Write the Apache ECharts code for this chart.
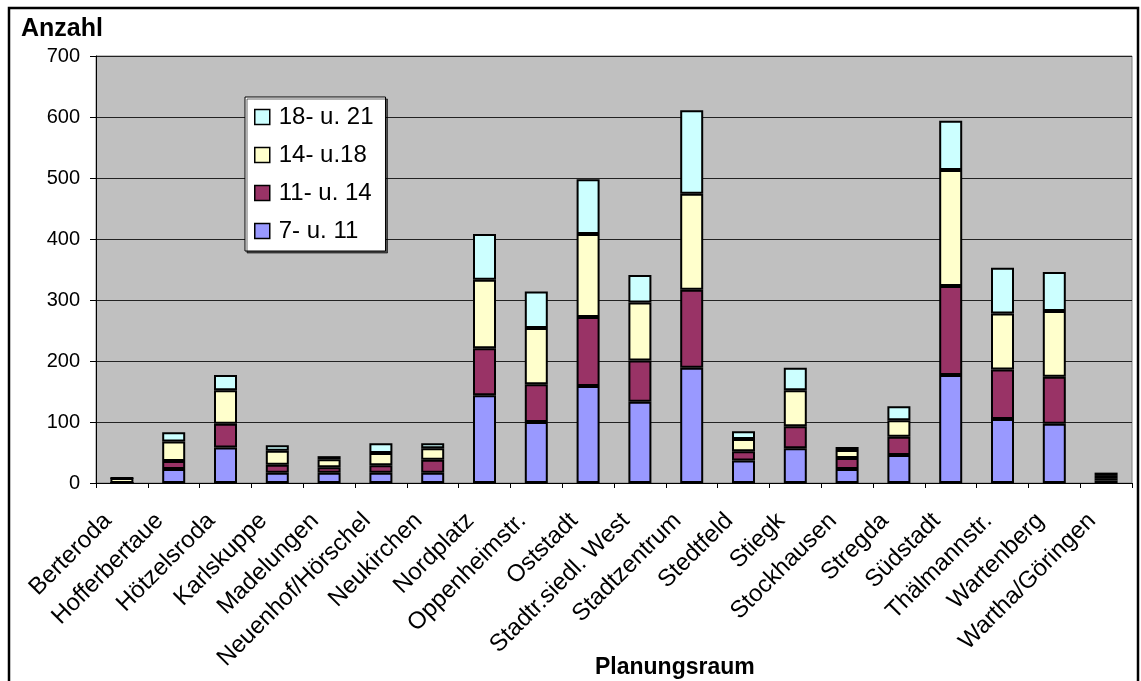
<!DOCTYPE html>
<html>
<head>
<meta charset="utf-8">
<script src="https://cdn.jsdelivr.net/npm/echarts@6/dist/echarts.min.js"></script>
<style>
html,body{margin:0;padding:0;background:#fff;}
#c{width:1141px;height:681px;}
</style>
</head>
<body>
<div id="c"></div>
<script>
var categories = ['Berteroda','Hofferbertaue','Hötzelsroda','Karlskuppe','Madelungen','Neuenhof/Hörschel','Neukirchen','Nordplatz','Oppenheimstr.','Oststadt','Stadtr.siedl. West','Stadtzentrum','Stedtfeld','Stiegk','Stockhausen','Stregda','Südstadt','Thälmannstr.','Wartenberg','Wartha/Göringen'];
var age7to11  = [0,23,58,17,17,17,17,144,100,159,133,189,37,57,23,46,177,105,97,4];
var age11to14 = [0,13,39,13,9,12,21,77,62,113,68,128,15,36,18,30,146,81,77,4];
var age14to18 = [8,32,55,23,13,20,19,112,92,136,95,157,20,59,13,27,190,92,108,5];
var age18to21 = [0,15,25,9,5,16,8,75,60,90,45,137,13,37,5,23,81,75,64,4];
var seriesNames = ['7- u. 11','11- u. 14','14- u.18','18- u. 21'];
var legendOrder = ['18- u. 21','14- u.18','11- u. 14','7- u. 11'];
var yTicks = {min:0, max:700, interval:100};

var FONT = "'Liberation Sans', Arial, sans-serif";
var colors = ['#9999FF','#993366','#FFFFCC','#CCFFFF'];
var dataSets = [age7to11, age11to14, age14to18, age18to21];

var chart = echarts.init(document.getElementById('c'), null, {renderer:'canvas'});
var series = dataSets.map(function(d,i){
  return {
    name: seriesNames[i], type:'bar', stack:'total', data:d, barWidth:23,
    itemStyle:{color:colors[i], borderColor:'#000', borderWidth:2},
    emphasis:{disabled:true}, animation:false
  };
});
chart.setOption({
  animation:false,
  backgroundColor:'#fff',
  title:[
    {text:'Anzahl', left:16, top:12, textStyle:{fontFamily:FONT, fontWeight:'bold', fontSize:25, color:'#000'}},
    {text:'Planungsraum', left:590, top:651, textStyle:{fontFamily:FONT, fontWeight:'bold', fontSize:23, color:'#000'}}
  ],
  graphic:[{type:'rect', shape:{x:9, y:8, width:1129, height:690}, style:{fill:'none', stroke:'#000', lineWidth:2.5}, silent:true, z:100}],
  grid:{left:96, top:56, right:9, bottom:198, show:true, backgroundColor:'#C0C0C0', borderColor:'#808080', borderWidth:1},
  legend:{
    data:legendOrder,
    orient:'vertical', left:245, top:97,
    backgroundColor:'#fff', borderColor:'#000', borderWidth:1,
    shadowColor:'rgba(0,0,0,0.6)', shadowOffsetX:2, shadowOffsetY:2, shadowBlur:0,
    padding:[8,12,8,9], itemGap:14, itemWidth:15, itemHeight:15,
    icon:'rect',
    itemStyle:{borderColor:'#000', borderWidth:1.5},
    textStyle:{fontFamily:FONT, fontSize:24, color:'#000', padding:[0,0,0,4]}
  },
  xAxis:{
    type:'category', data:categories,
    axisLine:{lineStyle:{color:'#000', width:1}},
    axisTick:{show:true, length:5, lineStyle:{color:'#000'}},
    axisLabel:{rotate:45, interval:0, fontFamily:FONT, fontSize:24, color:'#000', margin:20, padding:[0,20,0,0]}
  },
  yAxis:{
    type:'value', min:yTicks.min, max:yTicks.max, interval:yTicks.interval,
    axisLine:{show:true, lineStyle:{color:'#000', width:1}},
    axisTick:{show:true, length:6, lineStyle:{color:'#000'}},
    axisLabel:{fontFamily:FONT, fontSize:20, color:'#000', margin:16},
    splitLine:{show:true, lineStyle:{color:'#222', width:1}}
  },
  series:series
});
</script>
</body>
</html>
